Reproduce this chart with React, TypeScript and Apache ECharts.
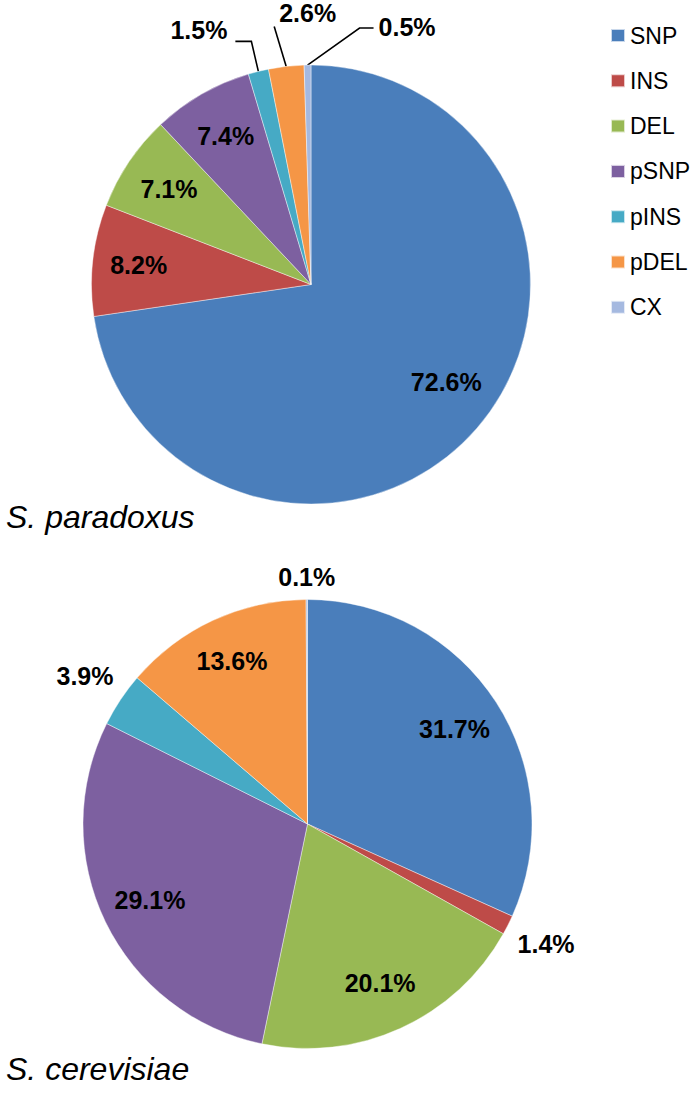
import React, { useEffect, useRef } from "react";
import * as echarts from "echarts";

// ---- data ----
const categories = ["SNP", "INS", "DEL", "pSNP", "pINS", "pDEL", "CX"];
const paradoxusValues = [72.6, 8.2, 7.1, 7.4, 1.5, 2.6, 0.5];
const cerevisiaeValues = [31.7, 1.4, 20.1, 29.1, 3.9, 13.6, 0.1];
const speciesTitles = ["S. paradoxus", "S. cerevisiae"];

// ---- style ----
const colors = ["#4A7EBB", "#BE4B48", "#98B954", "#7D60A0", "#46AAC5", "#F59646", "#A5B9E0"];
const FONT = "'Liberation Sans', Arial, Helvetica, sans-serif";

type LabelSpec = {
  k?: number;
  da?: number;
  line?: { elbow: [number, number]; run: number; text: [number, number]; align: string };
};

const pieLayouts = [
  {
    center: [311, 284.5],
    radius: 219.5,
    titleY: 517,
    labels: [
      { k: 0.76, da: -5 },
      { k: 0.79 },
      { k: 0.78 },
      { k: 0.78 },
      { line: { elbow: [-7, -30], run: -16, text: [-8, -11], align: "right" } },
      { line: { elbow: [-12, -40], run: 0, text: [5, -13], align: "left" } },
      { line: { elbow: [52, -37], run: 14, text: [5, -1], align: "left" } },
    ] as LabelSpec[],
  },
  {
    center: [307.5, 824],
    radius: 224.5,
    titleY: 1069,
    labels: [
      { k: 0.78 },
      { k: 1.19 },
      { k: 0.78 },
      { k: 0.78 },
      { k: 1.19 },
      { k: 0.8 },
      { k: 1.1 },
    ] as LabelSpec[],
  },
];

const seriesValues = [paradoxusValues, cerevisiaeValues];

function midAngle(values: number[], idx: number): number {
  const total = values.reduce((a, b) => a + b, 0);
  let cum = 0;
  for (let i = 0; i < idx; i++) cum += values[i];
  return ((cum + values[idx] / 2) / total) * 360;
}

export default function App() {
  const ref = useRef<HTMLDivElement>(null);

  useEffect(() => {
    document.body.style.margin = "0";
    if (!ref.current) return;
    const chart = echarts.init(ref.current, undefined, { renderer: "svg" });

    const series = pieLayouts.map((pl, si) => {
      const values = seriesValues[si];
      return {
        type: "pie",
        center: pl.center,
        radius: pl.radius,
        startAngle: 90,
        clockwise: true,
        avoidLabelOverlap: false,
        silent: true,
        itemStyle: { borderColor: "rgba(255,255,255,0.7)", borderWidth: 0.6 },
        label: {
          show: true,
          position: "outside",
          overflow: "none",
          formatter: (p: any) => `${Number(p.value).toFixed(1)}%`,
          fontFamily: FONT,
          fontWeight: "bold",
          fontSize: 25,
          color: "#000",
        },
        labelLine: { show: false },
        labelLayout: (p: any) => {
          const spec = pl.labels[p.dataIndex] || {};
          const theta = ((midAngle(values, p.dataIndex) + (spec.da || 0)) * Math.PI) / 180;
          const sx = Math.sin(theta);
          const sy = -Math.cos(theta);
          const [cx, cy] = pl.center;
          if (spec.line) {
            const E = [cx + pl.radius * sx, cy + pl.radius * sy];
            const elbow = [E[0] + spec.line.elbow[0], E[1] + spec.line.elbow[1]];
            const end = [elbow[0] + spec.line.run, elbow[1]];
            return {
              x: end[0] + spec.line.text[0],
              y: end[1] + spec.line.text[1],
              align: spec.line.align,
              verticalAlign: "middle",
              labelLinePoints: [E, elbow, end],
            };
          }
          const k = spec.k ?? 0.78;
          return {
            x: cx + k * pl.radius * sx,
            y: cy + k * pl.radius * sy,
            align: "center",
            verticalAlign: "middle",
          };
        },
        data: categories.map((name, i) => {
          const spec = pl.labels[i] || {};
          const item: any = { name, value: values[i], itemStyle: { color: colors[i] } };
          if (spec.line) {
            item.labelLine = {
              show: true,
              length: 20,
              length2: 10,
              lineStyle: { color: "#000", width: 1.6 },
            };
          }
          return item;
        }),
      };
    });

    chart.setOption({
      animation: false,
      backgroundColor: "#fff",
      color: colors,
      legend: {
        orient: "vertical",
        left: 605,
        top: 19,
        icon: "rect",
        itemWidth: 14,
        itemHeight: 13,
        itemGap: 22.3,
        selectedMode: false,
        data: categories,
        textStyle: {
          fontFamily: FONT,
          fontSize: 23,
          lineHeight: 23,
          color: "#000",
        },
      },
      graphic: pieLayouts.map((pl, i) => ({
        type: "text",
        x: 6,
        y: pl.titleY,
        style: {
          text: speciesTitles[i],
          font: `italic 32px ${FONT}`,
          fill: "#000",
          align: "left",
          verticalAlign: "middle",
        },
      })),
      series,
    });

    return () => chart.dispose();
  }, []);

  return <div ref={ref} style={{ width: 700, height: 1105 }} />;
}
